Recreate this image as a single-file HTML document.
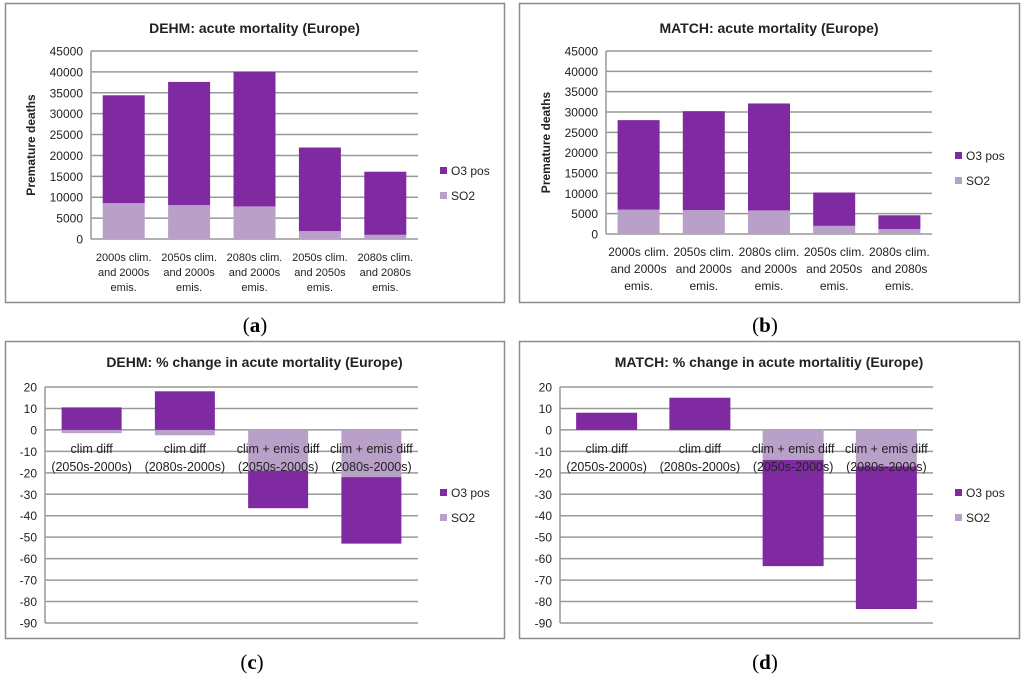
<!DOCTYPE html>
<html><head><meta charset="utf-8"><style>
body{margin:0;background:#fff;width:1024px;height:675px;overflow:hidden}
svg text{font-family:"Liberation Sans","DejaVu Sans",sans-serif}
</style></head><body>
<svg id="s" width="1024" height="675" xmlns="http://www.w3.org/2000/svg"></svg>
<script>
const catsTop=[["2000s clim.","and 2000s","emis."],["2050s clim.","and 2000s","emis."],["2080s clim.","and 2000s","emis."],["2050s clim.","and 2050s","emis."],["2080s clim.","and 2080s","emis."]];
const catsBot=[["clim diff","(2050s-2000s)"],["clim diff","(2080s-2000s)"],["clim + emis diff","(2050s-2000s)"],["clim + emis diff","(2080s-2000s)"]];
const dehmSO2=[8600,8100,7800,1900,1000];
const dehmTotal=[34400,37600,40000,21900,16100];
const matchSO2=[6000,5900,5800,2000,1200];
const matchTotal=[28000,30200,32100,10200,4600];
const dehmPctO3=[10.5,18,-17.5,-31];
const dehmPctSO2=[-1.5,-2.5,-19,-22];
const matchPctO3=[8,15,-49.5,-66.5];
const matchPctSO2=[-0.3,0,-14,-17];
const ticksTop=[0,5000,10000,15000,20000,25000,30000,35000,40000,45000];
const ticksBot=[20,10,0,-10,-20,-30,-40,-50,-60,-70,-80,-90];
const S=document.getElementById('s');const NS='http://www.w3.org/2000/svg';
function el(t,a,p){const e=document.createElementNS(NS,t);for(const k in a)e.setAttribute(k,a[k]);(p||S).appendChild(e);return e;}
function txt(x,y,s,a,p){const e=el('text',Object.assign({x:x,y:y},a),p);e.textContent=s;return e;}
const O3C='#7f2aa0',SO2C='#b9a0c9';
function panel(o){
 const g=el('g',{});
 
 
 const fr=el('rect',{x:o.fx+.5,y:o.fy+.5,width:o.fw,height:o.fh,fill:'#fff',stroke:'#8c8c8c','stroke-width':1.5},g);
 
 const t=txt(o.fx+o.fw/2-(o.tdx||0),o.fy+o.ty,o.title,{'text-anchor':'middle','font-size':14,'font-weight':'bold',fill:'#222'},g);
 
 const ymin=o.ticks.reduce((a,b)=>Math.min(a,b)),ymax=o.ticks.reduce((a,b)=>Math.max(a,b));
 const Y=v=>o.py1-(v-ymin)/(ymax-ymin)*(o.py1-o.py0);
 o.ticks.forEach(v=>{
  const l=el('line',{x1:o.px0,x2:o.px1,y1:Y(v),y2:Y(v),stroke:'#999','stroke-width':1.5},g);
  
  const tt=txt(o.px0-8,Y(v)+4.5,String(v),{'text-anchor':'end','font-size':o.tfs,fill:'#222'},g);
  
 });
 const ax=el('line',{x1:o.px0,x2:o.px0,y1:o.py0,y2:o.py1,stroke:'#999','stroke-width':1.5},g);
 
 if(o.ylab){const yl=txt(0,0,o.ylab,{'text-anchor':'middle','font-size':12,'font-weight':'bold',fill:'#222',transform:`translate(${o.ylx},${(o.py0+o.py1)/2}) rotate(-90)`},g);
  }
 const n=o.cats.length,cw=(o.px1-o.px0)/n;
 o.cats.forEach((c,i)=>{
  const cx=o.px0+cw*(i+.5),x=cx-o.bw/2;
  let s0,s1,q0,q1;
  if(o.stack){s0=0;s1=o.so2[i];q0=o.so2[i];q1=o.total[i];}
  else{s0=0;s1=o.so2[i];if(o.o3[i]>=0){q0=0;q1=o.o3[i];}else{q0=o.so2[i];q1=o.so2[i]+o.o3[i];}}
  const r1=el('rect',{x:x,y:Math.min(Y(s0),Y(s1)),width:o.bw,height:Math.abs(Y(s1)-Y(s0)),fill:SO2C},g);
  
  const r2=el('rect',{x:x,y:Math.min(Y(q0),Y(q1)),width:o.bw,height:Math.abs(Y(q1)-Y(q0)),fill:O3C},g);
  
 });
 o.cats.forEach((c,i)=>{
  const cx=o.px0+cw*(i+.5);
  c.forEach((ln,j)=>{const ct=txt(cx,o.cy+j*o.clh,ln,{'text-anchor':'middle','font-size':o.cfs,fill:'#222'},g);
   });
 });
 [['O3 pos',O3C],['SO2',SO2C]].forEach((L,j)=>{
  const r=el('rect',{x:o.lx,y:o.ly+j*25-4,width:7,height:7,fill:L[1]},g);
  
  const lt=txt(o.lx+11,o.ly+j*25+4,L[0],{'font-size':12,fill:'#222'},g);
  
 });
}
panel({name:'chart-dehm-mortality',fx:5,fy:3,fw:499,fh:299,ty:30,title:'DEHM: acute mortality (Europe)',px0:91,px1:418,py0:51,py1:239,ticks:ticksTop,tfs:12,ylab:'Premature deaths',ylx:35,cats:catsTop,bw:42,stack:true,so2:dehmSO2,total:dehmTotal,cy:261,clh:15,cfs:11,lx:440,ly:171});
panel({name:'chart-match-mortality',fx:519,fy:3,fw:500,fh:299,ty:30,title:'MATCH: acute mortality (Europe)',px0:606,px1:932,py0:51,py1:234,ticks:ticksTop,tfs:12,ylab:'Premature deaths',ylx:550,cats:catsTop,bw:42,stack:true,so2:matchSO2,total:matchTotal,cy:256,clh:17,cfs:12,lx:955,ly:156});
panel({name:'chart-dehm-pct-change',fx:5,fy:341,fw:499,fh:297,ty:26,title:'DEHM: % change in acute mortality (Europe)',px0:45,px1:418,py0:387,py1:623,ticks:ticksBot,tfs:12,cats:catsBot,bw:60,stack:false,o3:dehmPctO3,so2:dehmPctSO2,cy:453,clh:18,cfs:12.5,lx:440,ly:493});
panel({name:'chart-match-pct-change',fx:519,fy:341,fw:500,fh:297,ty:26,title:'MATCH: % change in acute mortalitiy (Europe)',px0:560,px1:933,py0:387,py1:623,ticks:ticksBot,tfs:12,cats:catsBot,bw:61,stack:false,o3:matchPctO3,so2:matchPctSO2,cy:453,clh:18,cfs:12.5,lx:955,ly:493});
[['(a)',255,332],['(b)',765,332],['(c)',252,669],['(d)',765,669]].forEach(c=>{
 const t=txt(c[1],c[2],'',{'text-anchor':'middle','font-size':21,fill:'#000'});
 t.style.fontFamily='"Liberation Serif",serif';
 t.innerHTML='('+'<tspan font-weight="bold">'+c[0][1]+'</tspan>)';
 
 
});
</script>
</body></html>
